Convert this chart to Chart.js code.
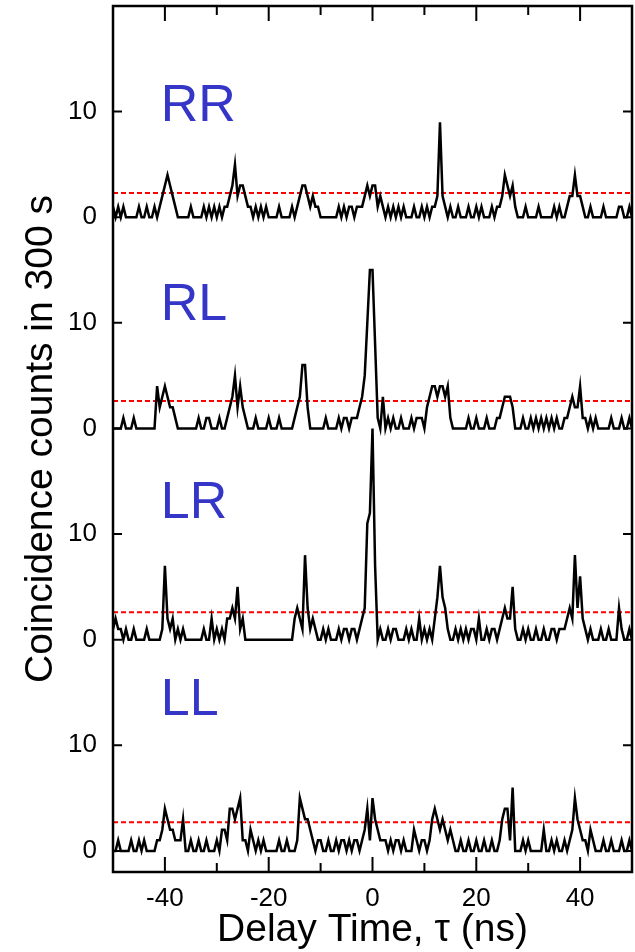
<!DOCTYPE html>
<html>
<head>
<meta charset="utf-8">
<script src="https://cdn.jsdelivr.net/npm/chart.js@4.4.0/dist/chart.umd.min.js"></script>
<style>
    html, body { margin: 0; padding: 0; background: #fff; }
    #wrap { width: 635px; height: 952px; }
</style>
</head>
<body>
<div id="wrap"><canvas id="coincChart" width="635" height="952"></canvas></div>
<script>
// delay bins, 0.5 ns wide, from -50 to 50 ns
var binStart = -50;
var binWidth = 0.5;
var delayNs = [];
for (var i = 0; i < 201; i++) delayNs.push(binStart + i * binWidth);

// coincidence counts per bin (one row = 10 ns)
var countsRR = [
    1,0,1,0,1,0,0,0,0,0, 1,0,0,1,0,0,1,0,1,2,
    3,4,3,2,1,0,0,0,0,0, 1,0,0,0,0,1,0,1,0,1,
    0,1,0,1,1,2,3,5,2,3, 3,2,1,1,0,1,0,1,0,1,
    0,0,0,0,1,0,0,0,0,1, 0,1,2,3,3,2,1,2,1,1,
    0,0,0,0,0,0,0,1,0,1, 0,1,1,0,1,1,1,2,3,2,
    3,3,1,2,1,0,1,0,1,0, 1,0,1,0,0,0,1,0,0,1,
    0,1,0,1,1,2,9,2,1,0, 1,0,0,1,0,0,0,1,0,0,
    1,0,1,0,0,0,1,0,1,1, 2,4,3,2,3,1,0,0,0,1,
    0,0,0,0,1,0,0,0,0,0, 1,0,1,0,0,1,2,2,4,2,
    2,1,0,0,1,0,0,0,0,1, 0,0,0,0,0,1,1,0,0,1,
    0
];
var countsRL = [
    0,0,0,0,1,0,0,0,1,0, 0,0,0,0,0,0,0,4,2,3,
    4,3,2,2,1,0,0,0,0,0, 0,0,0,1,0,0,1,1,0,0,
    0,1,0,0,1,2,3,5,2,4, 2,1,0,0,0,1,0,0,0,0,
    1,0,0,0,1,0,0,0,0,0, 1,2,3,6,6,2,0,0,0,0,
    0,0,1,0,0,0,0,1,0,1, 1,0,1,1,1,2,3,5,10,15,
    15,8,1,0,3,0,1,0,1,0, 0,1,0,0,0,1,0,1,1,1,
    0,2,3,4,4,3,4,4,3,4, 1,0,0,0,0,0,0,1,0,0,
    1,0,0,0,1,0,0,0,1,1, 2,3,3,3,2,0,0,0,1,0,
    0,1,0,1,0,1,0,1,0,1, 0,1,0,0,1,1,2,3,2,2,
    4,1,1,0,1,0,1,0,0,0, 0,0,1,0,0,0,1,0,0,1,
    0
];
var countsLR = [
    1,2,1,1,0,1,0,0,1,0, 0,0,0,1,0,0,0,0,0,1,
    7,2,1,2,0,1,0,1,0,0, 0,0,0,0,0,1,0,0,2,0,
    1,0,1,0,2,2,3,2,5,1, 2,0,0,0,0,0,0,0,0,0,
    0,0,0,0,0,0,0,0,0,0, 2,3,2,1,8,3,1,2,1,0,
    0,1,0,1,0,0,0,1,0,1, 1,0,1,1,0,1,2,3,11,12,
    20,7,0,1,0,0,1,0,1,1, 0,0,0,1,0,1,0,0,2,0,
    1,0,1,0,2,4,7,4,3,1, 0,0,1,0,1,0,1,0,1,1,
    0,2,0,0,1,0,1,1,0,1, 2,3,2,2,5,1,0,0,1,0,
    1,0,0,1,0,0,1,0,0,1, 1,0,1,1,1,2,3,2,8,3,
    6,2,1,0,1,0,0,0,1,0, 0,1,0,0,0,3,1,0,0,1,
    0
];
var countsLL = [
    0,0,1,0,0,0,0,1,0,0, 1,0,1,0,0,0,0,1,1,2,
    4,3,2,2,1,1,1,3,0,0, 1,0,0,1,0,0,1,0,0,0,
    1,0,2,2,1,4,4,3,4,5, 1,1,0,2,1,0,1,0,1,0,
    0,0,0,0,1,0,0,1,0,0, 0,1,5,4,3,3,2,1,0,1,
    1,0,0,1,0,0,1,0,1,1, 0,1,0,1,1,0,1,2,4,1,
    5,3,2,1,1,1,0,1,0,1, 1,0,1,0,0,0,2,1,0,1,
    1,0,1,3,4,3,2,3,2,1, 2,1,0,0,1,0,0,1,0,0,
    1,0,0,1,0,0,1,0,0,1, 3,4,4,1,6,0,0,0,1,0,
    1,0,0,0,0,0,2,0,0,1, 0,1,0,0,1,0,1,2,5,3,
    2,1,1,0,2,1,0,0,0,1, 0,0,1,0,0,0,1,0,0,1,
    0
];

var panelNames = ['RR', 'RL', 'LR', 'LL'];
var panelCounts = [countsRR, countsRL, countsLR, countsLL];
var backgroundLevel = [2.3, 2.6, 2.6, 2.7];   // red dashed lines
var panelOffset = [60, 40, 20, 0];           // each panel is stacked 20 counts apart
var panelTickLabels = ['0', '10'];
var xTicks = [-40, -20, 0, 20, 40];
var xMinorTicks = [-30, -10, 10, 30];

var FONT = '"Liberation Sans", Arial, Helvetica, sans-serif';

var datasets = [];
panelNames.forEach(function (name, k) {
    datasets.push({
        label: name,
        data: panelCounts[k].map(function (c, i) { return { x: delayNs[i], y: c + panelOffset[k] }; }),
        borderColor: '#000',
        borderWidth: 2.5,
        pointRadius: 0,
        tension: 0,
        order: 0
    });
    datasets.push({
        label: name + ' background',
        data: [{ x: -50, y: backgroundLevel[k] + panelOffset[k] }, { x: 50, y: backgroundLevel[k] + panelOffset[k] }],
        borderColor: '#ff0000',
        borderWidth: 2,
        borderDash: [5, 3],
        pointRadius: 0,
        order: 1
    });
});

// frame, inward ticks on all four sides and the panel names
var frameTicks = {
    id: 'frameTicks',
    afterDatasetsDraw: function (chart) {
        var ctx = chart.ctx, a = chart.chartArea;
        var xs = chart.scales.x, ys = chart.scales.y;
        ctx.save();
        ctx.strokeStyle = '#000';
        ctx.lineWidth = 2;
        ctx.beginPath();
        xTicks.concat(xMinorTicks).forEach(function (v) {
            var len = xTicks.indexOf(v) >= 0 ? 15 : 9;
            var px = xs.getPixelForValue(v);
            ctx.moveTo(px, a.bottom); ctx.lineTo(px, a.bottom - len);
            ctx.moveTo(px, a.top); ctx.lineTo(px, a.top + len);
        });
        ys.ticks.forEach(function (t) {
            var py = ys.getPixelForValue(t.value);
            ctx.moveTo(a.left, py); ctx.lineTo(a.left + 9, py);
            ctx.moveTo(a.right, py); ctx.lineTo(a.right - 9, py);
        });
        ctx.stroke();
        ctx.lineWidth = 2.5;
        ctx.strokeRect(a.left, a.top, a.right - a.left, a.bottom - a.top);

        // panel names
        var nameY = [10.5, 11.6, 12.9, 14.2];
        ctx.fillStyle = '#3535c8';
        ctx.font = '52px ' + FONT;
        ctx.textAlign = 'left';
        ctx.textBaseline = 'middle';
        panelNames.forEach(function (name, k) {
            ctx.fillText(name, xs.getPixelForValue(-40.8), ys.getPixelForValue(panelOffset[k] + nameY[k]));
        });
        ctx.restore();
    }
};

var ctx = document.getElementById('coincChart').getContext('2d');
var coincChart = new Chart(ctx, {
    type: 'line',
    data: { datasets: datasets },
    plugins: [frameTicks],
    options: {
        responsive: false,
        animation: false,
        layout: { padding: { top: 6, right: 3, left: 0, bottom: 0 } },
        plugins: { legend: { display: false }, tooltip: { enabled: false } },
        scales: {
            x: {
                type: 'linear',
                min: -50,
                max: 50,
                grid: { display: false, drawTicks: false },
                border: { display: false },
                afterBuildTicks: function (scale) {
                    scale.ticks = xTicks.map(function (v) { return { value: v }; });
                },
                afterFit: function (scale) {
                    scale.height = 80;
                    scale.paddingLeft = 0;
                    scale.paddingRight = 0;
                },
                ticks: {
                    padding: 11,
                    color: '#000',
                    font: { family: FONT, size: 26 },
                    maxRotation: 0
                },
                title: {
                    display: true,
                    text: 'Delay Time, \u03c4 (ns)',
                    color: '#000',
                    font: { family: FONT, size: 39, lineHeight: 1 },
                    padding: { top: 0, bottom: 2 }
                }
            },
            y: {
                type: 'linear',
                min: -2,
                max: 80,
                grid: { display: false, drawTicks: false },
                border: { display: false },
                afterBuildTicks: function (scale) {
                    var t = [];
                    panelOffset.slice().reverse().forEach(function (off) {
                        t.push({ value: off }, { value: off + 10 });
                    });
                    scale.ticks = t;
                },
                afterFit: function (scale) {
                    scale.width = 113;
                    scale.paddingTop = 0;
                    scale.paddingBottom = 0;
                },
                ticks: {
                    padding: 16,
                    color: '#000',
                    font: { family: FONT, size: 26 },
                    callback: function (v) { return panelTickLabels[(v % 20) / 10]; }
                },
                title: {
                    display: true,
                    text: 'Coincidence counts in 300 s',
                    color: '#000',
                    font: { family: FONT, size: 39, lineHeight: 1 },
                    padding: { top: 22, bottom: 0 }
                }
            }
        }
    }
});
</script>
</body>
</html>
